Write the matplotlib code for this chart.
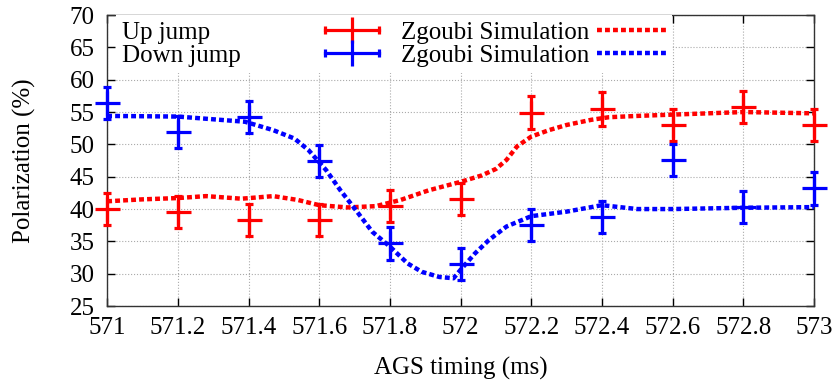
import matplotlib
matplotlib.use('Agg')
import matplotlib.pyplot as plt
from matplotlib.lines import Line2D
from matplotlib.legend_handler import HandlerLine2D, HandlerTuple

plt.rcParams['font.family'] = ['Liberation Serif', 'DejaVu Serif']
plt.rcParams['font.size'] = 18

# measured points (ms, %)
t_meas = [571.0, 571.2, 571.4, 571.6, 571.8, 572.0, 572.2, 572.4, 572.6, 572.8, 573.0]
up_jump = [40.0, 39.5, 38.3, 38.3, 40.5, 41.6, 54.9, 55.5, 53.0, 55.8, 53.0]
up_err = [2.5, 2.5, 2.5, 2.5, 2.5, 2.5, 2.6, 2.6, 2.5, 2.5, 2.5]
down_jump = [56.4, 51.9, 54.2, 47.4, 34.7, 31.5, 37.5, 38.8, 47.6, 40.3, 43.2]
down_err = [2.5, 2.5, 2.5, 2.5, 2.5, 2.5, 2.5, 2.5, 2.5, 2.5, 2.5]

# Zgoubi simulation curves
t_sim_up = [571.0, 571.1, 571.2, 571.28, 571.38, 571.47, 571.54, 571.6, 571.68, 571.76,
            571.83, 571.91, 572.0, 572.06, 572.1, 572.13, 572.16, 572.2, 572.25, 572.3,
            572.37, 572.42, 572.5, 572.6, 572.8, 573.0]
sim_up = [41.2, 41.5, 41.7, 42.0, 41.6, 42.0, 41.4, 40.6, 40.25, 40.45,
          41.4, 42.9, 44.2, 45.2, 46.2, 47.6, 49.7, 51.2, 52.2, 53.0,
          53.8, 54.2, 54.4, 54.6, 55.0, 54.8]
t_sim_down = [571.0, 571.2, 571.39, 571.47, 571.53, 571.57, 571.62, 571.66, 571.7, 571.75,
              571.8, 571.85, 571.89, 571.94, 571.98, 572.0, 572.04, 572.08, 572.13, 572.2,
              572.3, 572.4, 572.5, 572.6, 572.8, 573.0]
sim_down = [54.4, 54.3, 53.5, 52.2, 50.9, 49.1, 46.0, 42.9, 40.1, 36.5,
            34.2, 31.6, 30.3, 29.5, 29.3, 30.6, 33.1, 35.2, 37.3, 38.9,
            39.6, 40.6, 40.0, 40.0, 40.2, 40.3]

fig = plt.figure(figsize=(8.37, 3.85), dpi=100)
ax = fig.add_axes([0.128, 0.205, 0.8445, 0.756])

dots = (1.1, 0.7)
ax.plot(t_sim_up, sim_up, color='#ff0000', lw=3.2, dashes=dots, zorder=3)
ax.plot(t_sim_down, sim_down, color='#0000ff', lw=3.2, dashes=dots, zorder=3)

ax.errorbar(t_meas, up_jump, yerr=up_err, fmt='+', color='#ff0000', ms=18, mew=2.3,
            elinewidth=2.3, capsize=3, capthick=2.3, zorder=4, clip_on=False)
ax.errorbar(t_meas, down_jump, yerr=down_err, fmt='+', color='#0000ff', ms=18, mew=2.3,
            elinewidth=2.3, capsize=3, capthick=2.3, zorder=4, clip_on=False)

ax.set_xlim(571, 573)
ax.set_ylim(25, 70)
ax.set_xticks([571 + 0.2 * i for i in range(11)])
ax.set_xticklabels(['571', '571.2', '571.4', '571.6', '571.8', '572',
                    '572.2', '572.4', '572.6', '572.8', '573'])
ax.set_yticks(range(25, 71, 5))
ax.tick_params(direction='in', length=6, width=1, top=True, right=True)
ax.tick_params(axis='x', pad=8)
ax.tick_params(axis='y', pad=9)
ax.grid(True, color='#aaaaaa', linestyle=':', linewidth=0.8)
ax.set_axisbelow(True)
for s in ax.spines.values():
    s.set_linewidth(1.0)
    s.set_color('#333333')

ax.set_xlabel('AGS timing (ms)', labelpad=13)
ax.set_ylabel('Polarization (%)', labelpad=24)

# gnuplot-like errorbar key samples: bar with end caps plus a vertical bar in the middle
def eb_handle(c):
    caps = Line2D([], [], color=c, lw=2.3, marker='|', ms=6, mew=2.3)
    mid = Line2D([], [], color=c, lw=0, marker='|', ms=19, mew=2.3)
    return (caps, mid), caps, mid

h_up, caps_up, mid_up = eb_handle('#ff0000')
h_dn, caps_dn, mid_dn = eb_handle('#0000ff')
h_sim_up = Line2D([], [], color='#ff0000', lw=3.2, dashes=dots)
h_sim_down = Line2D([], [], color='#0000ff', lw=3.2, dashes=dots)
hmap = {caps_up: HandlerLine2D(numpoints=2), caps_dn: HandlerLine2D(numpoints=2),
        mid_up: HandlerLine2D(numpoints=1), mid_dn: HandlerLine2D(numpoints=1),
        tuple: HandlerTuple(ndivide=1, pad=0)}
leg = ax.legend([h_up, h_dn, h_sim_up, h_sim_down],
                ['Up jump' + ' ' * 16, 'Down jump' + ' ' * 11,
                 'Zgoubi Simulation', 'Zgoubi Simulation'],
                handler_map=hmap, ncol=2, markerfirst=False,
                loc='upper left', bbox_to_anchor=(0.012, 1.0),
                frameon=True, fancybox=False, handlelength=2.75, handletextpad=0.3,
                columnspacing=0.6, labelspacing=0.02, borderaxespad=0.0, borderpad=0.25)
leg.get_frame().set_edgecolor('none')
leg.get_frame().set_facecolor('white')
leg.get_frame().set_alpha(1.0)

fig.savefig('out.png', dpi=100)
